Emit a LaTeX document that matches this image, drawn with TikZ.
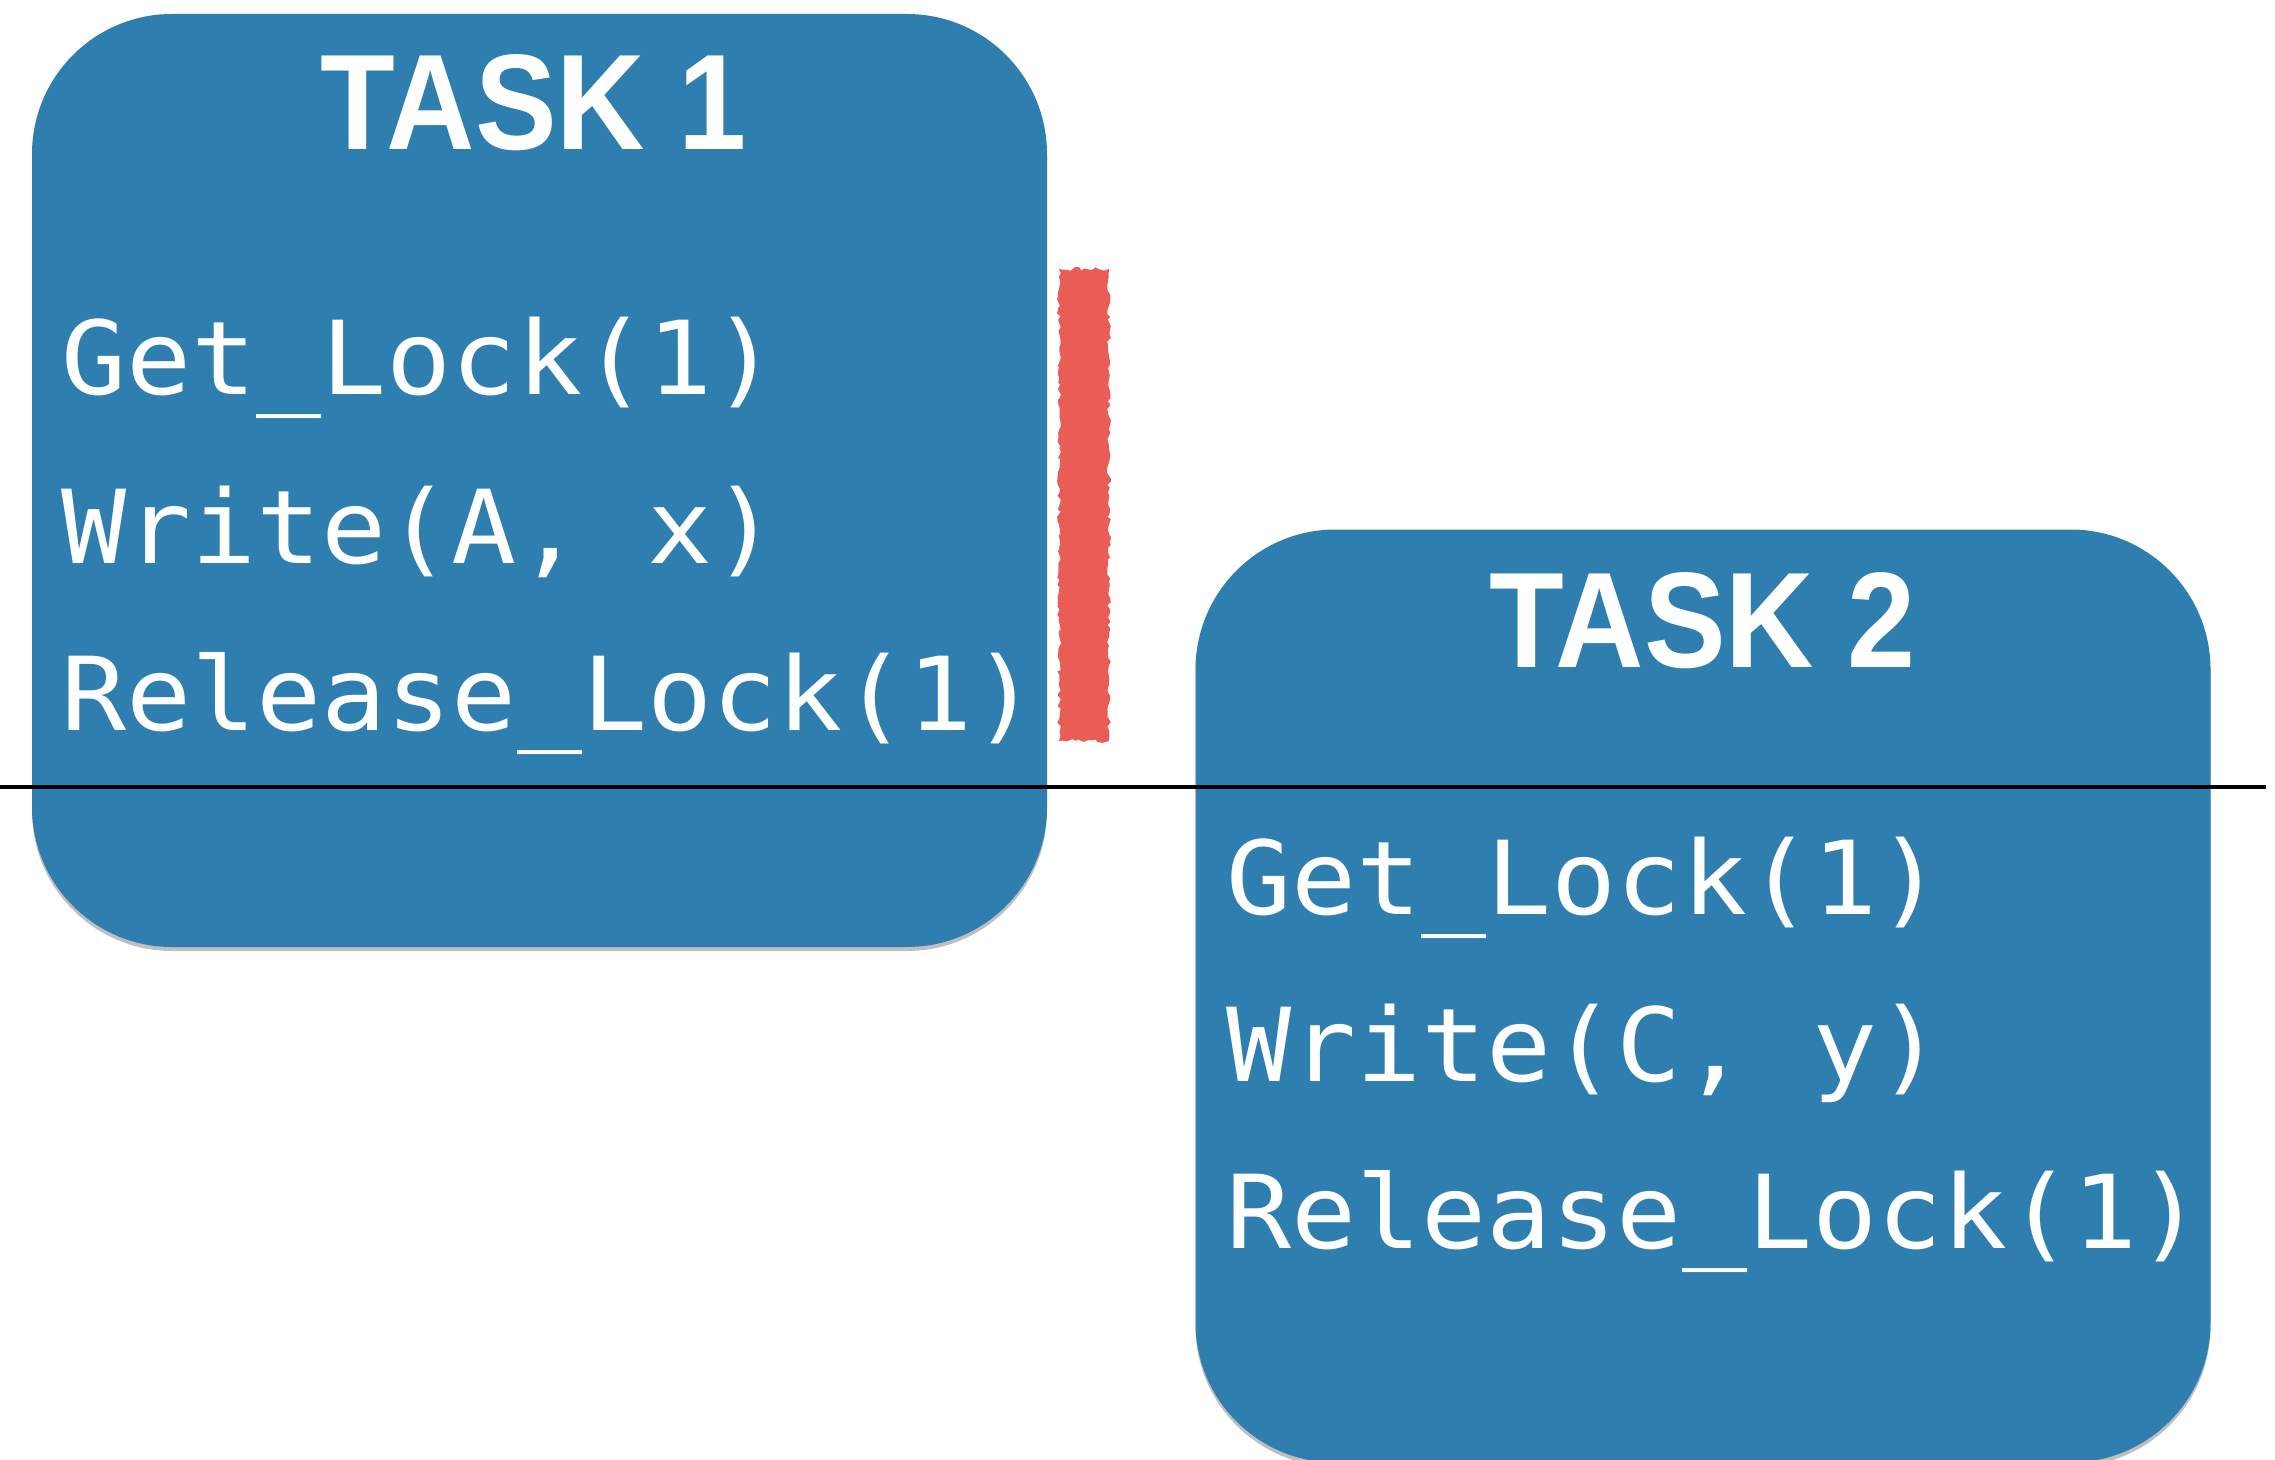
\documentclass[tikz,border=0pt]{standalone}
\usepackage{fontspec}
\newfontfamily\headfont[FakeStretch=0.9]{Liberation Sans}
\newfontfamily\codefont[FakeStretch=1.06]{DejaVu Sans Mono}
\usetikzlibrary{shadows,decorations.pathmorphing}

\definecolor{taskblue}{RGB}{47,126,176}
\definecolor{lockred}{RGB}{234,93,87}

\tikzset{
  taskbox/.style={fill=taskblue,rounded corners=70pt,inner sep=0pt,
    minimum width=507.5pt,minimum height=466.5pt,
    drop shadow={shadow xshift=0pt,shadow yshift=-2pt,opacity=.25,fill=black}},
  tasktitle/.style={anchor=base,text=white,inner sep=0pt,
    font=\headfont\bfseries\fontsize{68}{72}\selectfont},
  codeline/.style={anchor=base west,text=white,inner sep=0pt,
    font=\codefont\fontsize{51}{60}\selectfont},
  lockbar/.style={fill=lockred,inner sep=0pt,minimum width=25pt,minimum height=236pt,
    decorate,decoration={random steps,segment length=2pt,amplitude=1pt}},
}

\begin{document}
\begin{tikzpicture}[x=0.5pt,y=-0.5pt]
\path[use as bounding box] (0,0) rectangle (2275,1460);

% the two tasks
\node[taskbox] (task1) at (539.5,480.5) {};
\node[taskbox] (task2) at (1703,996) {};

\node[tasktitle] (title1) at (534,150) {TASK 1};
\node[tasktitle] (title2) at (1703,667) {TASK 2};

\node[codeline] (get1) at (61,395) {Get\_Lock(1)};
\node[codeline] (write1) at (61,563) {Write(A, x)};
\node[codeline] (rel1) at (61,730) {Release\_Lock(1)};

\node[codeline] (get2) at (1226,914) {Get\_Lock(1)};
\node[codeline] (write2) at (1226,1081) {Write(C, y)};
\node[codeline] (rel2) at (1226,1248) {Release\_Lock(1)};

% lock held by task 1
\node[lockbar] (hold) at (1084,505) {};

% time cut
\coordinate (cutL) at (0,787);
\coordinate (cutR) at (2266,787);
\draw[line width=2.25pt] (cutL) -- (cutR);
\end{tikzpicture}
\end{document}
